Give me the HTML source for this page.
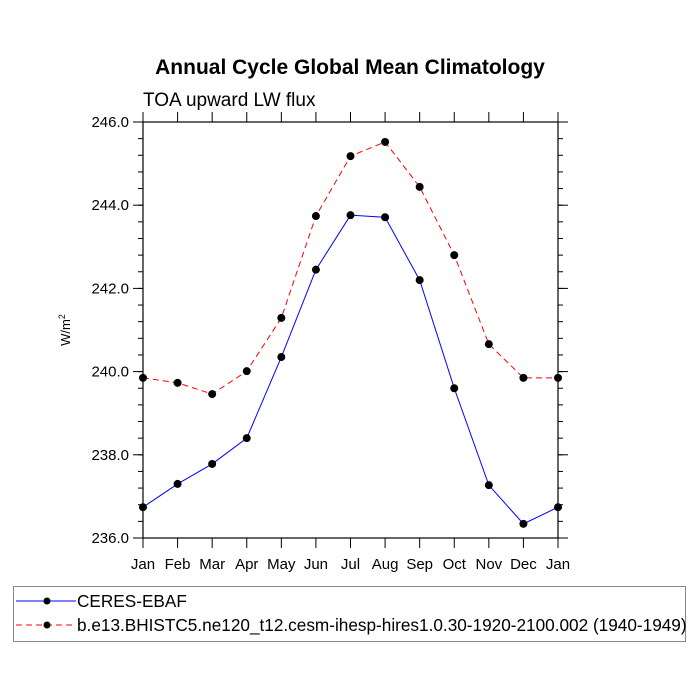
<!DOCTYPE html>
<html><head><meta charset="utf-8"><style>
html,body{margin:0;padding:0;background:#fff;width:700px;height:700px;overflow:hidden}
text{font-family:"Liberation Sans",sans-serif}
</style></head><body>
<svg id="chart" width="700" height="700" xmlns="http://www.w3.org/2000/svg">
<text x="350" y="74" text-anchor="middle" font-size="21" font-weight="bold">Annual Cycle Global Mean Climatology</text>
<text x="143" y="106" font-size="19">TOA upward LW flux</text>
<text transform="translate(70,330) rotate(-90)" text-anchor="middle" font-size="13">W/m<tspan dy="-5" font-size="9">2</tspan></text>
<g id="axes"></g>
<g id="series"></g>
<g>
<rect x="13.5" y="586.5" width="672" height="55" fill="#fff" stroke="#888" stroke-width="1"/>
<g>
<line x1="16" y1="601" x2="76" y2="601" stroke="#00f" stroke-width="1"/>
<circle cx="47" cy="601" r="3.5" fill="#000"/>
<text x="77" y="607" font-size="17.2">CERES-EBAF</text>
</g>
<g>
<line x1="16" y1="625" x2="76" y2="625" stroke="#f00" stroke-width="1" stroke-dasharray="6,4"/>
<circle cx="47" cy="625" r="3.5" fill="#000"/>
<text x="77" y="631" font-size="17.2">b.e13.BHISTC5.ne120_t12.cesm-ihesp-hires1.0.30-1920-2100.002 (1940-1949)</text>
</g>
</g>
</svg>
<script>
const months = ["Jan","Feb","Mar","Apr","May","Jun","Jul","Aug","Sep","Oct","Nov","Dec","Jan"];
const ceres = [236.74,237.30,237.78,238.40,240.35,242.45,243.76,243.71,242.20,239.60,237.27,236.34,236.74];
const model = [239.85,239.73,239.46,240.01,241.29,243.74,245.18,245.52,244.44,242.80,240.66,239.85,239.85];
const yTicks = [236,238,240,242,244,246];
const yTickLabels = ["236.0","238.0","240.0","242.0","244.0","246.0"];

const NS="http://www.w3.org/2000/svg";
const X0=143,X1=558,Y0=538,Y1=122,YMIN=236,YMAX=246;
const xs=i=>X0+(X1-X0)*i/(months.length-1);
const ys=v=>Y0-(v-YMIN)/(YMAX-YMIN)*(Y0-Y1);
function mk(tag,attrs,parent){const e=document.createElementNS(NS,tag);for(const k in attrs)e.setAttribute(k,attrs[k]);parent.appendChild(e);return e;}
const ax=document.getElementById('axes');
const frame=mk('rect',{x:X0,y:Y1,width:X1-X0,height:Y0-Y1,fill:'none',stroke:'#000','stroke-width':1.2},ax);


months.forEach((m,i)=>{
  const x=xs(i);
  mk('line',{x1:x,y1:Y0,x2:x,y2:Y0+10,stroke:'#000'},ax);
  mk('line',{x1:x,y1:Y1,x2:x,y2:Y1-10,stroke:'#000'},ax);
  const t=mk('text',{x:x,y:Y0+31,'text-anchor':'middle','font-size':15},ax);
  t.textContent=m;
  
  
});
for(let v=YMIN;v<=YMAX+1e-9;v+=0.4){
  const y=ys(v);
  mk('line',{x1:X0,y1:y,x2:X0-5,y2:y,stroke:'#000'},ax);
  mk('line',{x1:X1,y1:y,x2:X1+5,y2:y,stroke:'#000'},ax);
}
yTicks.forEach((v,i)=>{
  const y=ys(v);
  mk('line',{x1:X0,y1:y,x2:X0-10,y2:y,stroke:'#000'},ax);
  mk('line',{x1:X1,y1:y,x2:X1+10,y2:y,stroke:'#000'},ax);
  const t=mk('text',{x:X0-14,y:y+5,'text-anchor':'end','font-size':15},ax);
  t.textContent=yTickLabels[i];
  
  
});
const sg=document.getElementById('series');
function drawSeries(vals,color,dash,name){
  const g=mk('g',{},sg);
  
  
  const pts=vals.map((v,i)=>xs(i)+','+ys(v)).join(' ');
  const pl=mk('polyline',{points:pts,fill:'none',stroke:color,'stroke-width':1,'stroke-dasharray':dash},g);
  
  
  vals.forEach((v,i)=>{
    const c=mk('circle',{cx:xs(i),cy:ys(v),r:4,fill:'#000'},g);
    
    
  });
}
drawSeries(model,'#f00','6,4','model-series');
drawSeries(ceres,'#00f','none','ceres-series');
</script>
</body></html>
